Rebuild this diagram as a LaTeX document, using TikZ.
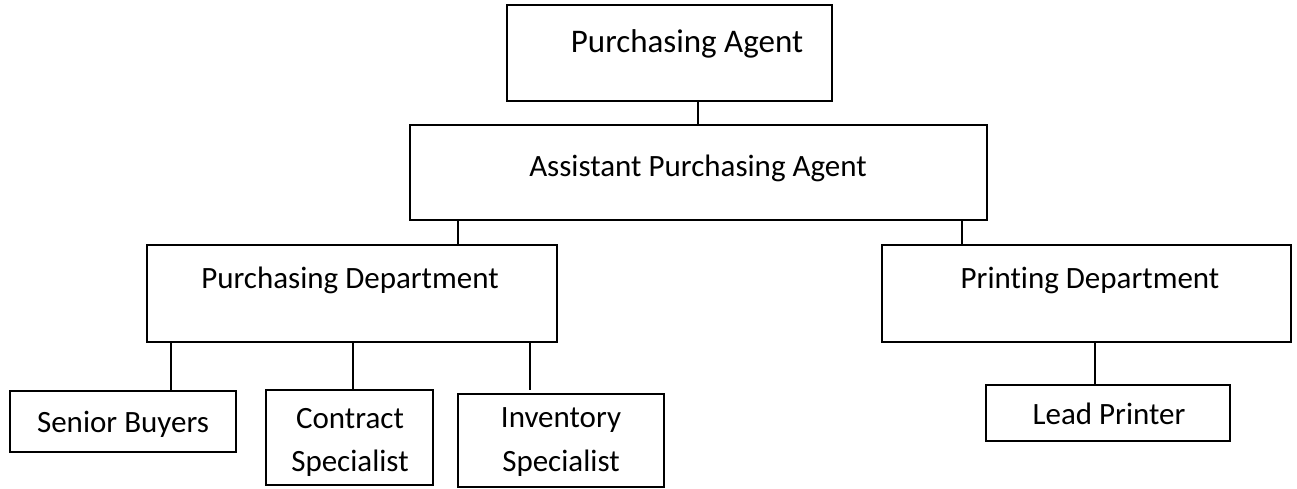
\documentclass[tikz,border=0pt]{standalone}
\usepackage{fontspec}
\setmainfont[Ligatures=NoCommon]{Carlito}
\begin{document}
\begin{tikzpicture}[x=1pt,y=-1pt,
  box/.style={draw, rectangle, inner sep=0pt, line width=1.9pt},
  lbl/.style={anchor=base, inner sep=0pt, font=\fontsize{31}{31}\selectfont},
  biglbl/.style={anchor=base, inner sep=0pt, font=\fontsize{33}{33}\selectfont},
  conn/.style={draw, line width=1.9pt}]
\useasboundingbox (0,0) rectangle (1297,489);
% boxes
\node[box, minimum width=325pt, minimum height=96pt] (pa)  at (669.5,53) {};
\node[box, minimum width=577pt, minimum height=95pt] (apa) at (698.5,172.5) {};
\node[box, minimum width=410pt, minimum height=97pt] (pd)  at (352,293.5) {};
\node[box, minimum width=409pt, minimum height=97pt] (prd) at (1086.5,293.5) {};
\node[box, minimum width=226pt, minimum height=61pt] (sb)  at (123,421.5) {};
\node[box, minimum width=167pt, minimum height=95pt] (cs)  at (349.5,437.5) {};
\node[box, minimum width=206pt, minimum height=93pt] (is)  at (561,440.5) {};
\node[box, minimum width=244pt, minimum height=56pt] (lp)  at (1108,413) {};
% labels
\node[biglbl] (paT)  at (687,53)   {Purchasing Agent};
\node[lbl]    (apaT) at (698,177)  {Assistant Purchasing Agent};
\node[lbl]    (pdT)  at (350,288)  {Purchasing Department};
\node[lbl]    (prdT) at (1090,288) {Printing Department};
\node[lbl]    (sbT)  at (123,432)  {Senior Buyers};
\node[lbl]    (csT1) at (350,428)  {Contract};
\node[lbl]    (csT2) at (350,471)  {Specialist};
\node[lbl]    (isT1) at (561,427)  {Inventory};
\node[lbl]    (isT2) at (561,471)  {Specialist};
\node[lbl]    (lpT)  at (1109,424) {Lead Printer};
% connectors
\draw[conn] (pa.south -| 698,0) -- (apa.north -| 698,0);
\draw[conn] (apa.south -| 458,0) -- (pd.north -| 458,0);
\draw[conn] (apa.south -| 962,0) -- (prd.north -| 962,0);
\draw[conn] (pd.south -| 171,0) -- (sb.north -| 171,0);
\draw[conn] (pd.south -| 353,0) -- (cs.north -| 353,0);
\coordinate (isEnd) at (530,390);
\draw[conn] (pd.south -| 530,0) -- (isEnd);
\draw[conn] (prd.south -| 1095,0) -- (lp.north -| 1095,0);
\end{tikzpicture}
\end{document}
